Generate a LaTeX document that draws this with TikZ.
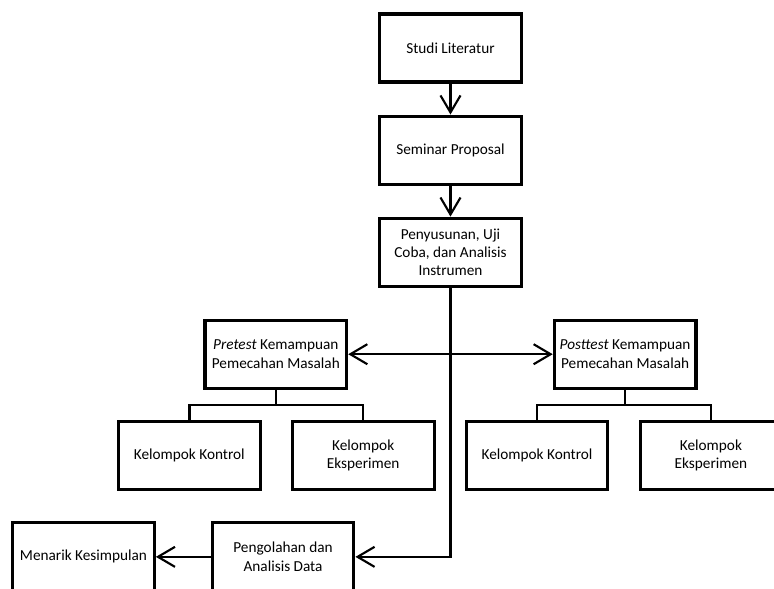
\documentclass[tikz,border=0pt]{standalone}
\usepackage{fontspec}
\setmainfont{Carlito}
\usetikzlibrary{arrows.meta, positioning}

\begin{document}
\begin{tikzpicture}[node distance=0.82cm,
  >={Straight Barb[length=4.5mm, width=5.3mm]},
  box/.style={rectangle, draw, line width=2.3pt, minimum width=3.75cm, minimum height=1.8cm, align=center, font=\fontsize{11.5}{13.8}\selectfont, inner sep=2pt},
  arr/.style={->, line width=1.6pt},
  link/.style={line width=1.8pt}
]
\useasboundingbox (-11.92,1.27) rectangle (8.56,-14.31);
\node[box] (studi) {Studi Literatur};
\node[box, below=of studi] (seminar) {Seminar Proposal};
\node[box, below=of seminar] (susun) {Penyusunan, Uji\\Coba, dan Analisis\\Instrumen};
\node[box, below left=0.82cm and 0.79cm of susun] (pretest) {\textit{Pretest} Kemampuan\\Pemecahan Masalah};
\node[box, below right=0.82cm and 0.79cm of susun] (posttest) {\textit{Posttest} Kemampuan\\Pemecahan Masalah};
\node[box, below=0.8cm of pretest, xshift=-2.29cm] (kontrol1) {Kelompok Kontrol};
\node[box, right=0.77cm of kontrol1] (eksp1) {Kelompok\\Eksperimen};
\node[box, right=0.77cm of eksp1] (kontrol2) {Kelompok Kontrol};
\node[box, right=0.77cm of kontrol2] (eksp2) {Kelompok\\Eksperimen};
\node[box, below=0.8cm of eksp1, xshift=-2.12cm] (olah) {Pengolahan dan\\Analisis Data};
\node[box, left=1.45cm of olah] (simpul) {Menarik Kesimpulan};
\draw[arr] (studi) -- (seminar);
\draw[arr] (seminar) -- (susun);
\draw[arr] (susun.south) |- (olah.east);
\draw[arr, <->] (pretest) -- (posttest);
\draw[arr] (olah) -- (simpul);
\draw[link] (pretest.south) -- ++(0,-0.4) -| (kontrol1.north);
\draw[link] (pretest.south) -- ++(0,-0.4) -| (eksp1.north);
\draw[link] (posttest.south) -- ++(0,-0.4) -| (kontrol2.north);
\draw[link] (posttest.south) -- ++(0,-0.4) -| (eksp2.north);
\end{tikzpicture}
\end{document}
